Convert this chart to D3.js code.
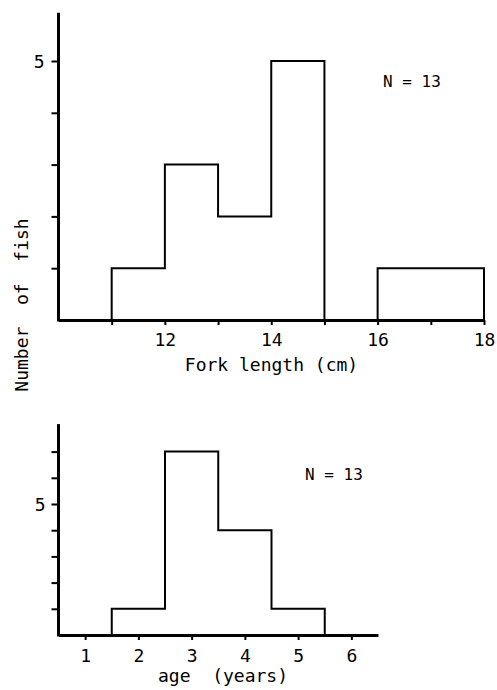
<!DOCTYPE html>
<html>
<head>
<meta charset="utf-8">
<script src="https://cdn.jsdelivr.net/npm/d3@7"></script>
<style>
body{margin:0;background:#fff;}
svg{display:block;}
text{font-family:"DejaVu Sans Mono",monospace;fill:#000;}
</style>
</head>
<body>
<script>
// fork length histogram (1 cm classes)
var lengthEdges=[11,12,13,14,15,16,17];
var lengthCounts=[1,3,2,5,0,1,1];
var lengthTicks=[11,12,13,14,15,16,17,18];
var lengthLabels=[12,14,16,18];
// age histogram
var ageClasses=[2,3,4,5];
var ageCounts=[1,7,4,1];
var ageTicks=[1,2,3,4,5,6];
var topYTicks=[1,2,3,4,5];
var bottomYTicks=[1,2,3,4,5,6,7];

var width=497,height=690;
var svg=d3.select('body').append('svg')
.attr('width',width)
.attr('height',height);

// ---- top panel
var x1=d3.scaleLinear().domain([10,18]).range([58.5,484]);
var y1=d3.scaleLinear().domain([0,5]).range([320,61]);

var panel1=svg.append('g');

var pts1=[[lengthEdges[0],0]];
lengthEdges.forEach(function(d,i){
    pts1.push([d,lengthCounts[i]]);
    pts1.push([d+1,lengthCounts[i]]);
});
pts1.push([lengthEdges[lengthEdges.length-1]+1,0]);

var line1=d3.line().x(d=>x1(d[0])).y(d=>y1(d[1]));
panel1.append('path')
.attr('d',line1(pts1))
.attr('fill','none')
.attr('stroke','#000')
.attr('stroke-width',2);

var xAxis1=d3.axisBottom(x1)
.tickValues(lengthTicks)
.tickSizeInner(5)
.tickSizeOuter(0)
.tickFormat(d=>lengthLabels.indexOf(d)>=0?d:'');
var gx1=panel1.append('g').attr('transform','translate(0,'+y1(0)+')').call(xAxis1);
gx1.select('.domain').attr('stroke-width',3);
gx1.selectAll('.tick line').attr('stroke-width',2);
gx1.selectAll('.tick text').attr('font-size',18).attr('dy',null).attr('y',26)
.attr('font-family','"DejaVu Sans Mono",monospace');

var yAxis1=d3.axisLeft(y1)
.tickValues(topYTicks)
.tickSizeInner(7)
.tickSizeOuter(0)
.tickFormat(d=>d===5?d:'');
var gy1=panel1.append('g').attr('transform','translate('+x1(10)+',0)').call(yAxis1);
gy1.select('.domain').attr('d','M0,'+y1(5.93)+'V'+(y1(0)+1.5)).attr('stroke-width',3);
gy1.selectAll('.tick line').attr('stroke-width',2);
gy1.selectAll('.tick text').attr('font-size',18).attr('x',-14).attr('dy','0.36em')
.attr('font-family','"DejaVu Sans Mono",monospace');

panel1.append('text')
.attr('x',271.5).attr('y',371)
.attr('text-anchor','middle')
.attr('font-size',18)
.text('Fork length (cm)');

panel1.append('text')
.attr('x',383).attr('y',87)
.attr('font-size',16)
.attr('xml:space','preserve')
.text('N = 13');

// ---- bottom panel
var x2=d3.scaleLinear().domain([0.5,6.5]).range([58.5,378]);
var y2=d3.scaleLinear().domain([0,5]).range([635,504]);

var panel2=svg.append('g');

var pts2=[[ageClasses[0]-0.5,0]];
ageClasses.forEach(function(d,i){
    pts2.push([d-0.5,ageCounts[i]]);
    pts2.push([d+0.5,ageCounts[i]]);
});
pts2.push([ageClasses[ageClasses.length-1]+0.5,0]);

var line2=d3.line().x(d=>x2(d[0])).y(d=>y2(d[1]));
panel2.append('path')
.attr('d',line2(pts2))
.attr('fill','none')
.attr('stroke','#000')
.attr('stroke-width',2);

var xAxis2=d3.axisBottom(x2)
.tickValues(ageTicks)
.tickSizeInner(5)
.tickSizeOuter(0)
.tickFormat(d3.format('d'));
var gx2=panel2.append('g').attr('transform','translate(0,'+y2(0)+')').call(xAxis2);
gx2.select('.domain').attr('stroke-width',3);
gx2.selectAll('.tick line').attr('stroke-width',2);
gx2.selectAll('.tick text').attr('font-size',18).attr('dy',null).attr('y',27)
.attr('font-family','"DejaVu Sans Mono",monospace');

var yAxis2=d3.axisLeft(y2)
.tickValues(bottomYTicks)
.tickSizeInner(7)
.tickSizeOuter(0)
.tickFormat(d=>d===5?d:'');
var gy2=panel2.append('g').attr('transform','translate('+x2(0.5)+',0)').call(yAxis2);
gy2.select('.domain').attr('d','M0,'+y2(8.05)+'V'+(y2(0)+1.5)).attr('stroke-width',3);
gy2.selectAll('.tick line').attr('stroke-width',2);
gy2.selectAll('.tick text').attr('font-size',18).attr('x',-13).attr('dy','0.36em')
.attr('font-family','"DejaVu Sans Mono",monospace');

panel2.append('text')
.attr('x',223).attr('y',682)
.attr('text-anchor','middle')
.attr('font-size',18)
.attr('xml:space','preserve')
.text('age  (years)');

panel2.append('text')
.attr('x',305).attr('y',480)
.attr('font-size',16)
.attr('xml:space','preserve')
.text('N = 13');

// shared y title
svg.append('text')
.attr('transform','translate(28,305) rotate(-90)')
.attr('text-anchor','middle')
.attr('font-size',18)
.attr('xml:space','preserve')
.text('Number  of  fish');
</script>
</body>
</html>
